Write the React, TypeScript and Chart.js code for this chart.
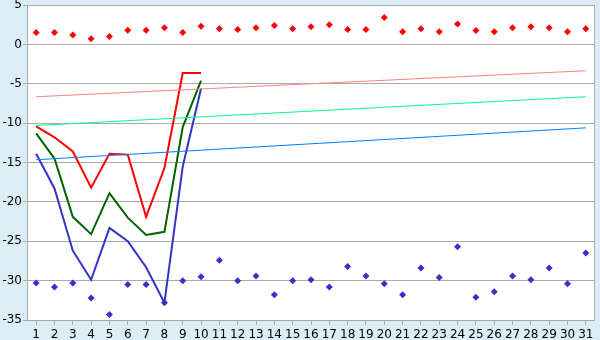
import React, { useEffect, useRef } from "react";
import { Chart, registerables } from "chart.js";
Chart.register(...registerables);

const categories = ["1","2","3","4","5","6","7","8","9","10","11","12","13","14","15","16","17","18","19","20","21","22","23","24","25","26","27","28","29","30","31"];

const redMarkers = [1.5,1.5,1.2,0.7,1.0,1.8,1.8,2.1,1.5,2.3,2.0,1.9,2.1,2.4,2.0,2.25,2.5,1.9,1.9,3.4,1.6,2.0,1.6,2.6,1.75,1.6,2.1,2.25,2.1,1.6,2.0];
const blueMarkers = [-30.3,-30.8,-30.3,-32.2,-34.3,-30.5,-30.5,-32.8,-30.0,-29.5,-27.4,-30.0,-29.4,-31.8,-30.0,-29.9,-30.8,-28.2,-29.4,-30.4,-31.8,-28.4,-29.6,-25.7,-32.1,-31.4,-29.4,-29.9,-28.4,-30.4,-26.5];

const redLine = [-10.4,-11.8,-13.6,-18.2,-13.9,-14.0,-21.9,-15.7,-3.65,-3.65];
const greenLine = [-11.3,-14.5,-21.9,-24.1,-18.9,-22.0,-24.2,-23.8,-10.5,-4.6];
const blueLine = [-13.9,-18.3,-26.2,-29.9,-23.3,-25.0,-28.3,-32.8,-15.5,-5.6];

// trend lines: value at first and last category only
const pinkTrend = { first: -6.65, last: -3.35 };
const greenTrend = { first: -10.3, last: -6.65 };
const blueTrend = { first: -14.65, last: -10.6 };

const yTicks = { min: -35, max: 5, step: 5 };

function endpoints(t: { first: number; last: number }) {
  return categories.map((_, i) => (i === 0 ? t.first : i === categories.length - 1 ? t.last : null));
}

const plotBg = {
  id: "plotBg",
  beforeDraw(chart: any) {
    const { ctx, chartArea: a } = chart;
    ctx.save();
    ctx.fillStyle = "#ffffff";
    ctx.fillRect(a.left, a.top, a.right - a.left, a.bottom - a.top);
    ctx.restore();
  },
  afterDraw(chart: any) {
    const { ctx, chartArea: a } = chart;
    ctx.save();
    ctx.strokeStyle = "#aaaaaa";
    ctx.lineWidth = 1;
    ctx.strokeRect(Math.round(a.left) + 0.5, Math.round(a.top) + 0.5, Math.round(a.right - a.left) - 1, Math.round(a.bottom - a.top));
    ctx.restore();
  },
};

export default function App() {
  const ref = useRef<HTMLCanvasElement>(null);
  useEffect(() => {
    document.body.style.margin = "0";
    const font = { family: "DejaVu Sans", size: 12 };
    const trend = (data: any[], color: string) => ({
      data,
      borderColor: color,
      borderWidth: 1,
      pointRadius: 0,
      spanGaps: true,
      fill: false,
    });
    const mainLine = (data: number[], color: string) => ({
      data,
      borderColor: color,
      borderWidth: 2,
      pointRadius: 0,
      fill: false,
    });
    const markers = (data: number[], color: string) => ({
      data,
      showLine: false,
      pointStyle: "rectRot",
      pointRadius: 3.5,
      pointBackgroundColor: color,
      pointBorderColor: color,
      borderColor: color,
      pointBorderWidth: 0,
    });
    const chart = new Chart(ref.current!, {
      type: "line",
      data: {
        labels: categories,
        datasets: [
          trend(endpoints(pinkTrend), "#ff8080"),
          trend(endpoints(greenTrend), "#00ff80"),
          trend(endpoints(blueTrend), "#0080ff"),
          mainLine(redLine, "#ff0000"),
          mainLine(greenLine, "#006400"),
          mainLine(blueLine, "#3333cc"),
          markers(redMarkers, "#ff0000"),
          markers(blueMarkers, "#3333cc"),
        ] as any,
      },
      options: {
        animation: false,
        responsive: false,
        maintainAspectRatio: false,
        layout: { padding: { top: 5, right: 5, left: 0, bottom: 0 } },
        plugins: { legend: { display: false }, tooltip: { enabled: false } },
        scales: {
          x: {
            offset: true,
            grid: { offset: false, drawOnChartArea: false, drawTicks: true, tickLength: 5, color: "#aaaaaa" },
            border: { display: false },
            ticks: { color: "#000", font, padding: 3, maxRotation: 0, autoSkip: false },
            afterFit: (s: any) => { s.height = 20; s.paddingLeft = 0; s.paddingRight = 0; },
          },
          y: {
            min: yTicks.min,
            max: yTicks.max,
            grid: { color: "#aaaaaa", tickLength: 4 },
            border: { display: false },
            ticks: { stepSize: yTicks.step, color: "#000", font, padding: 1 },
            afterFit: (s: any) => { s.width = 27; s.paddingTop = 0; s.paddingBottom = 0; },
          },
        },
      } as any,
      plugins: [plotBg],
    });
    return () => chart.destroy();
  }, []);
  return (
    <div style={{ position: "absolute", left: 0, top: 0, width: 600, height: 340, background: "#dbeef5" }}>
      <canvas ref={ref} width={600} height={340} style={{ display: "block" }} />
    </div>
  );
}
